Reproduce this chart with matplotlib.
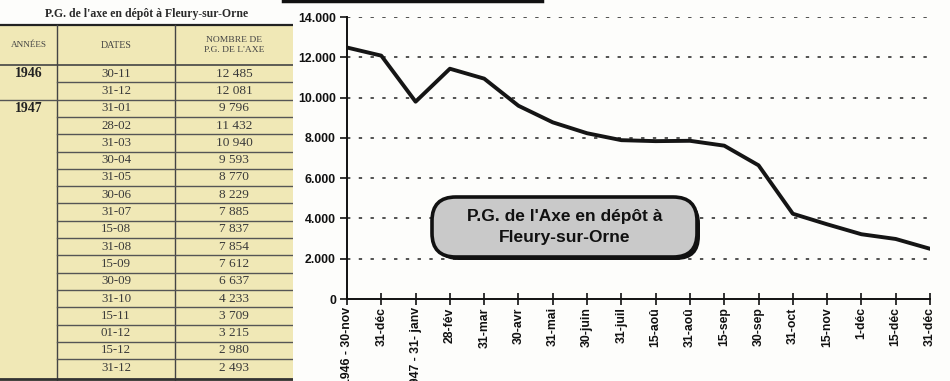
import matplotlib
matplotlib.use("Agg")
import matplotlib.pyplot as plt
from matplotlib.patches import Rectangle, FancyBboxPatch
from matplotlib.lines import Line2D
from matplotlib.ticker import FuncFormatter

# ---------------- data ----------------
years = ["1946", "1947"]
year_start_rows = [0, 2]
table_dates = ["30-11", "31-12", "31-01", "28-02", "31-03", "30-04", "31-05", "30-06",
               "31-07", "15-08", "31-08", "15-09", "30-09", "31-10", "15-11", "01-12",
               "15-12", "31-12"]
pg_counts = [12485, 12081, 9796, 11432, 10940, 9593, 8770, 8229, 7885, 7837, 7854,
             7612, 6637, 4233, 3709, 3215, 2980, 2493]
chart_labels = ["1946 - 30-nov", "31-déc", "1947 - 31- janv", "28-fév", "31-mar",
                "30-avr", "31-mai", "30-juin", "31-juil", "15-aoû", "31-aoû", "15-sep",
                "30-sep", "31-oct", "15-nov", "1-déc", "15-déc", "31-déc"]
y_ticks = [0, 2000, 4000, 6000, 8000, 10000, 12000, 14000]
table_title = "P.G. de l'axe en dépôt à Fleury-sur-Orne"
box_title = "P.G. de l'Axe en dépôt à\nFleury-sur-Orne"

W, H = 950, 381
fig = plt.figure(figsize=(W / 100, H / 100), dpi=100)
fig.patch.set_facecolor("#fdfdfb")

# ---------------- table (left) ----------------
serif = ["Liberation Serif", "DejaVu Serif"]
tab_w = 293
tax = fig.add_axes([0, 0, tab_w / W, 1])
tax.set_xlim(0, tab_w)
tax.set_ylim(H, 0)
tax.axis("off")

ink = "#3a3a3a"
beige = "#f0e8b6"
top, head_bot, row_h = 25, 65, 17.3
col1, col2 = 57, 175

tax.add_patch(Rectangle((0, top), tab_w, H - top, facecolor=beige, edgecolor="none"))
tax.text(tab_w / 2, 13.5, table_title, ha="center", va="center", family=serif,
         fontsize=8.5, fontweight="bold", color="#2a2a2a")
tax.plot([0, tab_w + 2], [top, top], color="#222", lw=1.6)
tax.plot([0, tab_w], [head_bot, head_bot], color="#444", lw=1.2)
tax.plot([col1, col1], [top, H], color="#444", lw=1)
tax.plot([col2, col2], [top, H], color="#444", lw=1)

tax.text(col1 / 2, (top + head_bot) / 2, "ANNÉES", ha="center", va="center",
         family=serif, fontsize=6.6, color="#444")
tax.text((col1 + col2) / 2, (top + head_bot) / 2, "DATES", ha="center", va="center",
         family=serif, fontsize=7.2, color="#444")
tax.text((col2 + tab_w) / 2, (top + head_bot) / 2, "NOMBRE DE\nP.G. DE L'AXE",
         ha="center", va="center", family=serif, fontsize=6.8, color="#444",
         linespacing=1.4)

for i, (d, v) in enumerate(zip(table_dates, pg_counts)):
    yc = head_bot + (i + 0.5) * row_h
    tax.text((col1 + col2) / 2, yc, d, ha="center", va="center", family=serif,
             fontsize=9.3, color=ink)
    tax.text((col2 + tab_w) / 2, yc, f"{v:,}".replace(",", " "), ha="center",
             va="center", family=serif, fontsize=9.6, color=ink)
    yb = head_bot + (i + 1) * row_h
    x0 = 0 if (i + 1) in year_start_rows else col1
    if i < len(table_dates) - 1:
        tax.plot([x0, tab_w], [yb, yb], color="#555", lw=1)

for yr, r in zip(years, year_start_rows):
    tax.text(col1 / 2, head_bot + (r + 0.5) * row_h, yr, ha="center", va="center",
             family=serif, fontsize=10, fontweight="bold", color="#222")
tax.plot([0, tab_w], [H - 2, H - 2], color="#333", lw=2)

# ---------------- line chart (right) ----------------
sans = ["Liberation Sans", "DejaVu Sans"]
x0p, x1p, ytop, ybot = 347, 930, 17, 299
ax = fig.add_axes([x0p / W, 1 - ybot / H, (x1p - x0p) / W, (ybot - ytop) / H])
ax.set_facecolor("none")
x = list(range(len(pg_counts)))
ax.plot(x, pg_counts, color="#151515", lw=2.8, solid_joinstyle="round", zorder=3)
ax.set_xlim(0, len(pg_counts) - 1)
ax.set_ylim(0, 14000)
ax.set_yticks(y_ticks)
ax.yaxis.set_major_formatter(FuncFormatter(lambda v, p: f"{int(v):,}".replace(",", ".")))
ax.set_xticks(x)
ax.set_xticklabels(chart_labels, rotation=90, ha="center", va="top")
for s in ["top", "right"]:
    ax.spines[s].set_visible(False)
for s in ["left", "bottom"]:
    ax.spines[s].set_color("#111")
    ax.spines[s].set_linewidth(1.4)
    ax.spines[s].set_clip_on(False)
ax.tick_params(axis="y", direction="out", length=5, width=1.2, pad=3, colors="#111",
               labelsize=8.8)
ax.tick_params(axis="x", direction="inout", length=8, width=1.2, pad=2, colors="#111",
               labelsize=8.8)
for lab in ax.get_xticklabels() + ax.get_yticklabels():
    lab.set_fontweight("bold")
    lab.set_family(sans)
ax.yaxis.grid(True, linestyle=(0, (2.2, 5.5)), color="#222", lw=1.1)
ax.set_axisbelow(True)
for gl in ax.get_ygridlines()[:1]:
    gl.set_visible(False)

# rounded text box with shadow
bx, by, bw, bh = 432 / W, 1 - 257 / H, 265 / W, 60 / H
shadow = FancyBboxPatch((bx + 3 / W, by - 3 / H), bw, bh,
                        boxstyle="round,pad=0,rounding_size=0.025",
                        transform=fig.transFigure, facecolor="#111", edgecolor="none",
                        mutation_aspect=W / H, zorder=5)
box = FancyBboxPatch((bx, by), bw, bh, boxstyle="round,pad=0,rounding_size=0.025",
                     transform=fig.transFigure, facecolor="#c9c9c9", edgecolor="#111",
                     lw=2.6, mutation_aspect=W / H, zorder=6)
fig.patches.extend([shadow, box])
fig.text(bx + bw / 2, by + bh / 2, box_title, ha="center", va="center",
         family=sans, fontsize=12.5, fontweight="bold", color="#111",
         linespacing=1.45, zorder=7)

# scan fragment: edge of a box at the top
fig.add_artist(Line2D([283 / W, 542 / W], [1 - 1 / H, 1 - 1 / H],
                      transform=fig.transFigure, color="#111", lw=2.5))

fig.savefig("out.png", dpi=100, facecolor=fig.get_facecolor())
